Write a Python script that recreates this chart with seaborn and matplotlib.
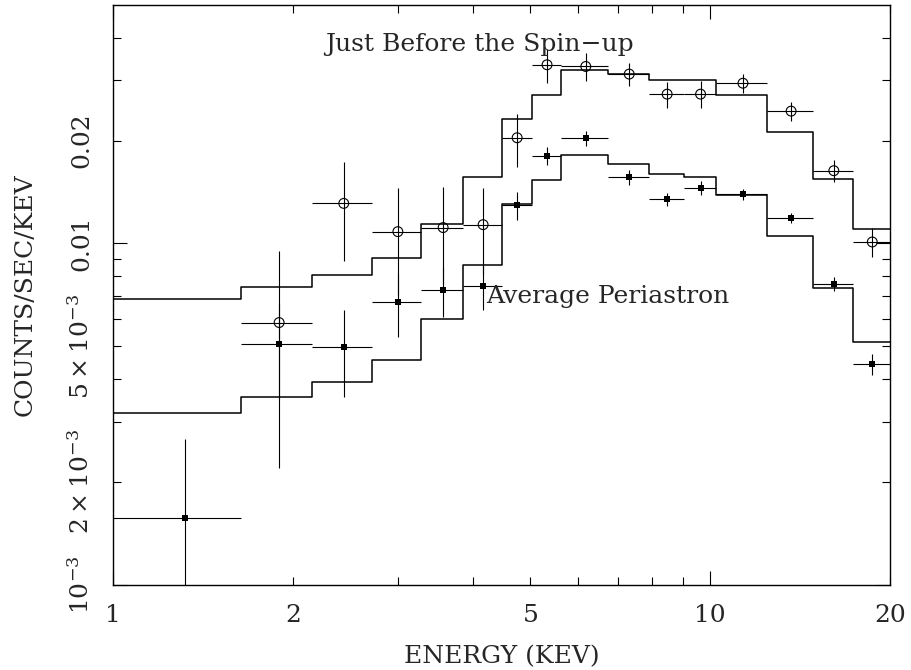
import numpy as np
import pandas as pd
import seaborn as sns
import matplotlib
matplotlib.use("Agg")
import matplotlib.pyplot as plt
from matplotlib.ticker import FixedLocator, FuncFormatter


# Energy bin edges (keV)
bin_edges = [1.0, 1.641, 2.154, 2.715, 3.283, 3.859, 4.473, 5.027, 5.634,
             6.745, 7.89, 9.05, 10.22, 12.47, 14.85, 17.36, 20.0]

# Just before the spin-up: data, 1-sigma errors, model
spinup_rate = [np.nan, 5.86e-3, 0.01309, 0.01082, 0.01112, 0.01134, 0.02038, 0.03334,
               0.03296, 0.03131, 0.02735, 0.02735, 0.02944, 0.02439, 0.01632, 0.01009]
spinup_err = [np.nan, 3.66e-3, 4.2e-3, 3.74e-3, 3.5e-3, 3.2e-3, 3.6e-3, 3.8e-3,
              3.1e-3, 2.5e-3, 2.4e-3, 2.5e-3, 1.95e-3, 1.5e-3, 1.17e-3, 0.97e-3]
spinup_model = [6.89e-3, 7.45e-3, 8.06e-3, 9.06e-3, 0.0114, 0.01567, 0.02317, 0.02711,
                0.03229, 0.0313, 0.0300, 0.0300, 0.02724, 0.02123, 0.01546, 0.01099]

# Average periastron: data, 1-sigma errors, model
peri_rate = [1.567e-3, 5.07e-3, 4.97e-3, 6.72e-3, 7.30e-3, 7.50e-3, 0.01294, 0.01801,
             0.02033, 0.01563, 0.01348, 0.01452, 0.01391, 0.01186, 7.59e-3, 4.43e-3]
peri_err = [1.1e-3, 1.56e-3, 1.42e-3, 1.4e-3, 1.23e-3, 1.13e-3, 1.2e-3, 1.1e-3,
            1.0e-3, 0.8e-3, 0.6e-3, 0.67e-3, 0.55e-3, 0.38e-3, 0.36e-3, 0.31e-3]
peri_model = [3.19e-3, 3.54e-3, 3.93e-3, 4.55e-3, 5.99e-3, 8.62e-3, 0.0130, 0.01529,
              0.01809, 0.01702, 0.01600, 0.01567, 0.01388, 0.01053, 7.38e-3, 5.13e-3]

y_tick_values = [2e-3, 5e-3, 0.02]
y_tick_labels = [r"$2\times10^{-3}$", r"$5\times10^{-3}$", "0.02"]
x_tick_values = [2, 5, 20]


sns.set_style("ticks")
plt.rcParams["font.family"] = ["DejaVu Serif"]
plt.rcParams["mathtext.fontset"] = "dejavuserif"
FS = 18

edges = np.array(bin_edges)
lo, hi = edges[:-1], edges[1:]
centres = (lo + hi) / 2

# step models: repeat the last value so the last bin is closed off
model_df = pd.DataFrame({
    "energy": np.concatenate([edges, edges]),
    "rate": np.concatenate([spinup_model + [spinup_model[-1]], peri_model + [peri_model[-1]]]),
    "state": ["spinup"] * len(edges) + ["peri"] * len(edges),
})

fig = plt.figure(figsize=(9.12, 6.70), dpi=100)
ax = fig.add_axes([113 / 912, 1 - 584.7 / 670, (890 - 113) / 912, (584.7 - 4.7) / 670])

sns.lineplot(data=model_df, x="energy", y="rate", units="state", estimator=None,
             drawstyle="steps-post", color="black", lw=1.1, ax=ax, legend=False)

xerr = [centres - lo, hi - centres]
ax.errorbar(centres, spinup_rate, xerr=xerr, yerr=spinup_err, fmt="none",
            ecolor="black", elinewidth=0.8, capsize=0)
ax.errorbar(centres, peri_rate, xerr=xerr, yerr=peri_err, fmt="none",
            ecolor="black", elinewidth=0.8, capsize=0)
sns.scatterplot(x=centres, y=spinup_rate, marker="o", s=50, facecolor="none",
                edgecolor="black", linewidth=0.8, ax=ax, zorder=4)
sns.scatterplot(x=centres, y=peri_rate, marker="s", s=14, color="black",
                edgecolor="black", linewidth=0, ax=ax, zorder=4)

ax.set_xscale("log")
ax.set_yscale("log")
ax.set_xlim(1, 20)
ax.set_ylim(1e-3, 0.05)

# log ticks: majors at decades, minors at 2..9, labels like the original
ax.xaxis.set_major_locator(FixedLocator([1, 10]))
ax.xaxis.set_minor_locator(FixedLocator([2, 3, 4, 5, 6, 7, 8, 9, 20]))
ax.xaxis.set_major_formatter(FuncFormatter(lambda v, p: f"{v:g}"))
ax.xaxis.set_minor_formatter(FuncFormatter(lambda v, p: f"{v:g}" if v in x_tick_values else ""))

ax.yaxis.set_major_locator(FixedLocator([1e-3, 1e-2]))
ax.yaxis.set_minor_locator(FixedLocator([k * 1e-3 for k in range(2, 10)] + [k * 1e-2 for k in range(2, 5)]))
ax.yaxis.set_major_formatter(FuncFormatter(lambda v, p: r"$10^{-3}$" if v < 5e-3 else "0.01"))
ax.yaxis.set_minor_formatter(FuncFormatter(
    lambda v, p: next((lab for t, lab in zip(y_tick_values, y_tick_labels) if abs(v - t) < 1e-9), "")))

ax.tick_params(which="both", direction="in", top=True, right=True, width=0.8,
               labelsize=FS, color="black")
ax.tick_params(which="major", length=10)
ax.tick_params(which="minor", length=6)
ax.tick_params(axis="x", which="both", pad=14)
ax.tick_params(axis="y", which="both", pad=14)
for lab in ax.get_yticklabels(which="both"):
    lab.set_rotation(90)
    lab.set_va("center")
for sp in ax.spines.values():
    sp.set_linewidth(1.0)
    sp.set_color("black")

ax.set_xlabel("ENERGY (KEV)", fontsize=FS, labelpad=13)
ax.set_ylabel("COUNTS/SEC/KEV", fontsize=FS)
ax.yaxis.set_label_coords(-0.098, 0.5)

ax.text(2.262, 0.0367, "Just Before the Spin\u2212up", fontsize=FS, ha="left", va="baseline")
ax.text(4.22, 6.67e-3, "Average Periastron", fontsize=FS, ha="left", va="baseline")

fig.savefig("out.png", dpi=100)
